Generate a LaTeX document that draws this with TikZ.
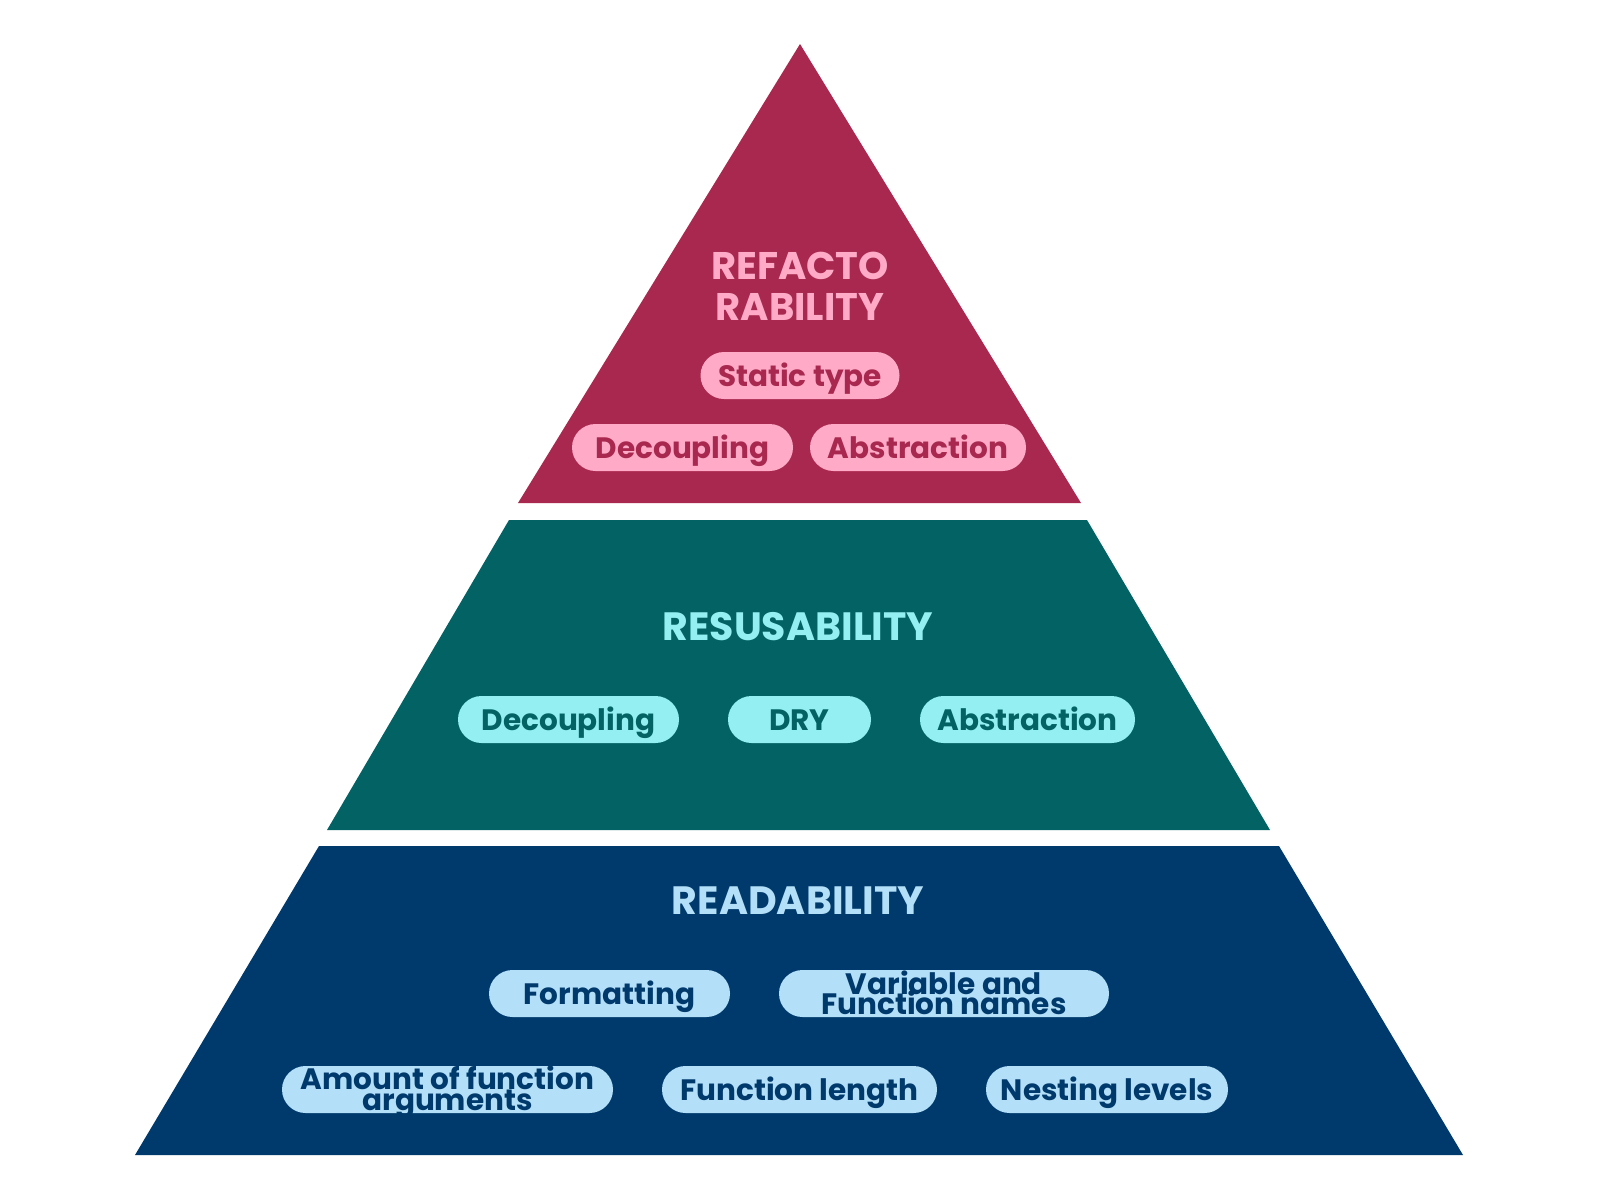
\documentclass[tikz,border=0pt]{standalone}
\usepackage{fontspec}
\setmainfont{Poppins}
\newcommand{\tightlines}{\lineskiplimit=-50pt\relax\lineskip=0pt\relax}
\begin{document}
\begin{tikzpicture}[x=1pt,y=-1pt,
  pill/.style={rounded corners=23.5pt, minimum height=47pt, inner sep=0pt, align=center,
    text height=21pt, text depth=0pt,
    font=\fontsize{29.5}{20.5}\selectfont\bfseries},
  pillshape/.style={rounded corners=23.5pt, minimum height=47pt, inner sep=0pt},
  pilltext/.style={inner sep=0pt, align=center, text depth=0pt,
    font=\fontsize{29.5}{20.5}\selectfont\bfseries\tightlines},
  ttl/.style={align=center, inner sep=0pt, font=\fontsize{39.5}{41}\selectfont\bfseries}]
\definecolor{topc}{HTML}{A8284F}
\definecolor{toppill}{HTML}{FFABC8}
\definecolor{midc}{HTML}{036264}
\definecolor{midpill}{HTML}{93EFF2}
\definecolor{botc}{HTML}{003A6C}
\definecolor{botpill}{HTML}{B3DFF8}
\useasboundingbox (0,0) rectangle (1600,1200);
\fill[white] (0,0) rectangle (1600,1200);
% layers
\fill[topc] (800,44) -- (1081,503) -- (518,503) -- cycle;
\fill[midc] (509,520) -- (1087,520) -- (1270,830) -- (327,830) -- cycle;
\fill[botc] (319,846) -- (1279,846) -- (1463,1155) -- (135,1155) -- cycle;
% top
\node[ttl, text=toppill, font=\fontsize{38.5}{41}\selectfont\bfseries] (t1) at (800,286) {REFACTO\\RABILITY};
\node[pill, fill=toppill, text=topc, minimum width=199pt] (p1) at (800,375.5) {Static type};
\node[pill, fill=toppill, text=topc, minimum width=221pt] (p2) at (682.5,447.5) {Decoupling};
\node[pill, fill=toppill, text=topc, minimum width=216pt] (p3) at (918,447.5) {Abstraction};
% middle
\node[ttl, text=midpill] (t2) at (798,627) {RESUSABILITY};
\node[pill, fill=midpill, text=midc, minimum width=221pt] (m1) at (568.5,719.5) {Decoupling};
\node[pill, fill=midpill, text=midc, minimum width=143pt] (m2) at (799.5,719.5) {DRY};
\node[pill, fill=midpill, text=midc, minimum width=215pt] (m3) at (1027.5,719.5) {Abstraction};
% bottom
\node[ttl, text=botpill] (t3) at (798,901) {READABILITY};
\node[pill, fill=botpill, text=botc, minimum width=241pt] (b1) at (609.5,993.5) {Formatting};
\node[pillshape, fill=botpill, minimum width=330pt] (b2) at (944,993.5) {};
\node[pilltext, text=botc] (b2t) at ([yshift=1pt]b2.center) {Variable and\\Function names};
\node[pillshape, fill=botpill, minimum width=331pt] (b3) at (447.5,1089.5) {};
\node[pilltext, text=botc] (b3t) at ([yshift=1.5pt]b3.center) {Amount of function\\arguments};
\node[pill, fill=botpill, text=botc, minimum width=275pt] (b4) at (799.5,1089.5) {Function length};
\node[pill, fill=botpill, text=botc, minimum width=242pt] (b5) at (1107,1089.5) {Nesting levels};
\end{tikzpicture}
\end{document}
